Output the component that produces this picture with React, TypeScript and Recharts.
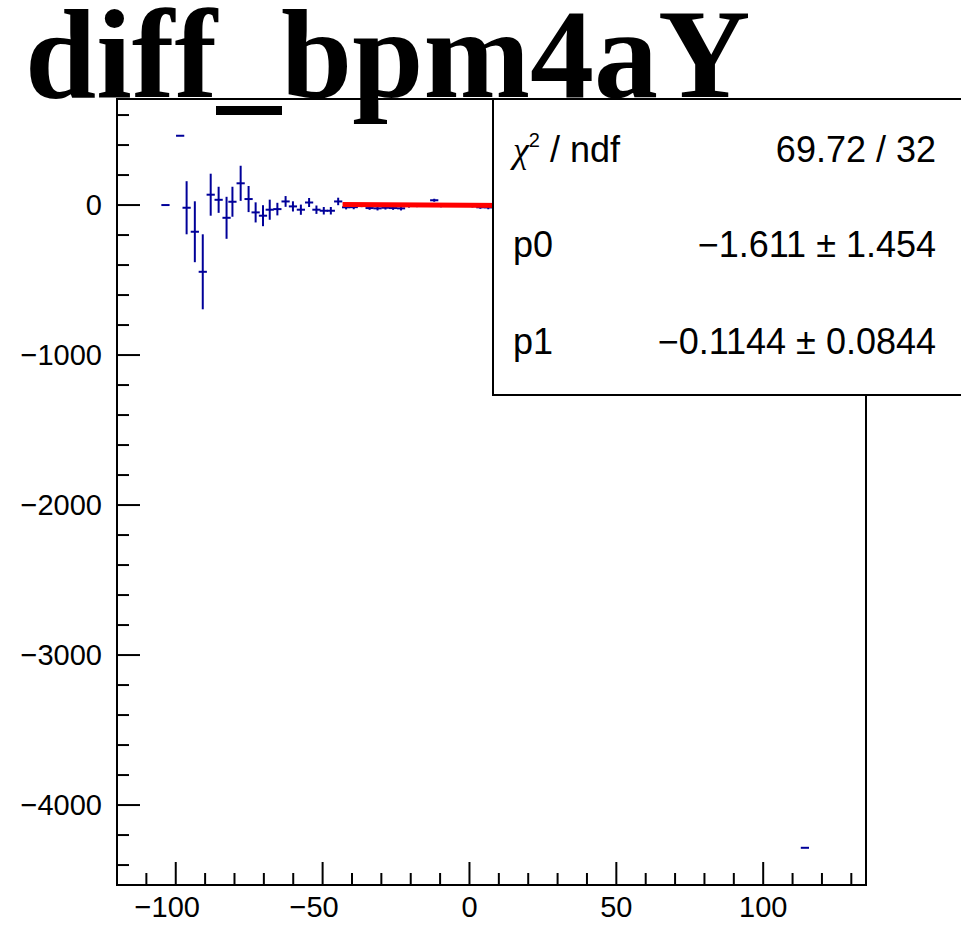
import React from 'react';
import { ComposedChart, XAxis, YAxis, Scatter, ErrorBar, Line, ReferenceArea } from 'recharts';

// ---- data ----
const binX = [
  -103.5, -98.5, -96.3, -93.5, -90.8, -88.1, -85.4, -82.7, -80.7, -77.9, -75.2, -72.8,
  -70.3, -68.0, -65.4, -62.6, -60.1, -57.4, -54.6, -52.1, -49.6, -47.2, -44.7,
  -42.0, -39.4, -36.7, -34.0, -31.3, -28.6, -26.0, -23.3, -20.6, -17.9, -15.2, -12.0,
  -9.7, -7.0, -4.3, -1.6, 1.0, 3.7, 6.4,
  114.2,
];
const binY = [
  0, 462, -18, -178, -445, 69, 35, -85, 22, 145, 40, -49,
  -71, -31, -27, 24, -9, -31, 17, -31, -38, -38, 24,
  -15, -14, -2, -20, -22, -18, -20, -22, -5, -2, 0, 32,
  -3, 1, -2, 3, -6, -15, -16,
  -4285,
];
const binErr = [
  0, 0, 177, 203, 250, 140, 87, 140, 100, 117, 87, 67,
  70, 67, 42, 36, 34, 34, 30, 28, 25, 25, 25,
  14, 14, 12, 12, 14, 12, 12, 14, 12, 12, 12, 10,
  12, 10, 10, 10, 10, 10, 12,
  0,
];
const BIN_HALF_WIDTH = 1.4;

const fitX = [-43.2, 60];
const fitY = [3.3, -8.5];

const xTicks = [-110, -100, -90, -80, -70, -60, -50, -40, -30, -20, -10, 0, 10, 20, 30, 40, 50, 60, 70, 80, 90, 100, 110, 120, 130];
const yTicks = [-4400, -4200, -4000, -3800, -3600, -3400, -3200, -3000, -2800, -2600, -2400, -2200, -2000, -1800, -1600, -1400, -1200, -1000, -800, -600, -400, -200, 0, 200, 400, 600];
const X_DOMAIN = [-120, 135];
const Y_DOMAIN = [-4533, 707];

const TITLE = 'diff_bpm4aY';
const STAT_NAMES = ['p0', 'p1'];
const STAT_VALUES = ['\u22121.611 \u00b1 1.454', '\u22120.1144 \u00b1 0.0844'];
const CHI2_VALUE = '69.72 / 32';

const points = binX.map((x, i) => ({ x, y: binY[i], ey: binErr[i], ex: BIN_HALF_WIDTH }));
const fitData = fitX.map((x, i) => ({ x, y: fitY[i] }));

// ---- styling ----
const W = 961;
const H = 941;
const SANS = 'Liberation Sans, Arial, Helvetica, sans-serif';
const SERIF = 'Liberation Serif, Times New Roman, serif';
const BLUE = '#000099';
const TICK_FONT = 29;
const X_TM = 11;
const Y_TM = 15;

const fmt = (v: number) => (v < 0 ? '\u2212' + Math.abs(v) : String(v));

const XTick = (props: any) => {
  const { x, y, payload } = props;
  const v = payload.value as number;
  const major = v % 50 === 0;
  const axisY = y - X_TM;
  return (
    <g>
      <line x1={x} x2={x} y1={axisY} y2={axisY - (major ? 23 : 12)} stroke="#000" strokeWidth={2} />
      {major && (
        <text
          x={x}
          y={y}
          dy="0.71em"
          dx={v < 0 ? -0.292 * TICK_FONT : 0}
          textAnchor="middle"
          fontSize={TICK_FONT}
          fontFamily={SANS}
          fill="#000"
        >
          {fmt(v)}
        </text>
      )}
    </g>
  );
};

const YTick = (props: any) => {
  const { x, y, payload } = props;
  const v = payload.value as number;
  const major = v % 1000 === 0;
  const axisX = x + Y_TM;
  return (
    <g>
      <line x1={axisX} x2={axisX + (major ? 23 : 12)} y1={y} y2={y} stroke="#000" strokeWidth={2} />
      {major && (
        <text x={x} y={y} dy="0.36em" textAnchor="end" fontSize={TICK_FONT} fontFamily={SANS} fill="#000">
          {fmt(v)}
        </text>
      )}
    </g>
  );
};

export default function App() {
  return (
    <div style={{ position: 'absolute', left: 0, top: 0, width: W, height: H, background: '#fff' }}>
      <ComposedChart width={W} height={H} margin={{ top: 99, right: 95, bottom: 0, left: 0 }}>
        <XAxis
          type="number"
          dataKey="x"
          domain={X_DOMAIN}
          allowDataOverflow
          ticks={xTicks}
          interval={0}
          height={56}
          tickSize={0}
          tickMargin={X_TM}
          tick={<XTick />}
          axisLine={{ stroke: '#000', strokeWidth: 2 }}
        />
        <YAxis
          type="number"
          dataKey="y"
          domain={Y_DOMAIN}
          allowDataOverflow
          ticks={yTicks}
          interval={0}
          width={117}
          tickSize={0}
          tickMargin={Y_TM}
          tick={<YTick />}
          axisLine={{ stroke: '#000', strokeWidth: 2 }}
        />
        <ReferenceArea
          x1={X_DOMAIN[0]}
          x2={X_DOMAIN[1]}
          y1={Y_DOMAIN[0]}
          y2={Y_DOMAIN[1]}
          fill="none"
          fillOpacity={0}
          stroke="#000"
          strokeWidth={2}
        />
        <Scatter data={points} fill={BLUE} shape={() => <g />} isAnimationActive={false}>
          <ErrorBar dataKey="ey" direction="y" width={0} stroke={BLUE} strokeWidth={2} isAnimationActive={false} />
          <ErrorBar dataKey="ex" direction="x" width={0} stroke={BLUE} strokeWidth={2} isAnimationActive={false} />
        </Scatter>
        <Line
          data={fitData}
          dataKey="y"
          type="linear"
          stroke="#ff0000"
          strokeWidth={5}
          dot={false}
          isAnimationActive={false}
        />
      </ComposedChart>
      <svg
        width={W}
        height={H}
        style={{ position: 'absolute', left: 0, top: 0, pointerEvents: 'none' }}
      >
        <rect x={493} y={99} width={480} height={296} fill="#fff" stroke="#000" strokeWidth={2} />
        <text x={513} y={162} fontSize={36} fontFamily={SANS} fill="#000">
          <tspan fontFamily={SERIF} fontStyle="italic">{'\u03c7'}</tspan>
          <tspan fontSize={20} dy={-15}>2</tspan>
          <tspan dy={15}>{' / ndf'}</tspan>
        </text>
        <text x={936} y={162} fontSize={36} fontFamily={SANS} textAnchor="end" fill="#000">
          {CHI2_VALUE}
        </text>
        {STAT_NAMES.map((n, i) => (
          <g key={n}>
            <text x={513} y={257 + i * 97} fontSize={36} fontFamily={SANS} fill="#000">
              {n}
            </text>
            <text x={936} y={257 + i * 97} fontSize={36} fontFamily={SANS} textAnchor="end" fill="#000">
              {STAT_VALUES[i]}
            </text>
          </g>
        ))}
        <text x={25} y={97} fontSize={128} fontFamily={SERIF} fontWeight="bold" fill="#000">
          {TITLE}
        </text>
      </svg>
    </div>
  );
}
